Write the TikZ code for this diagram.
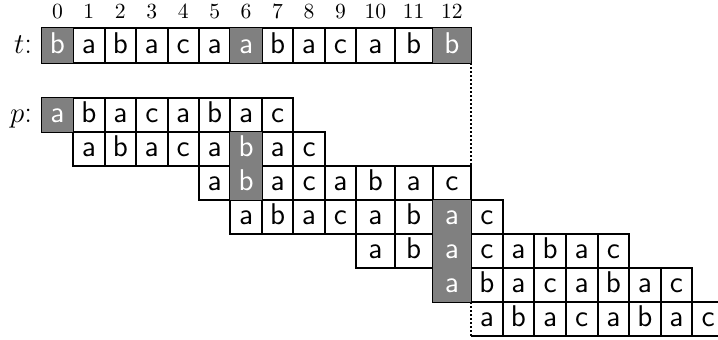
\documentclass[tikz,border=0pt]{standalone}
\def\XL{{41.7,73.15,104.6,136.05,167.5,198.95,230.4,261.85,293.3,324.75,356.2,394.5,432.8,471.1,502.7,534.3,565.9,597.5,629.1,660.7,692.3,723.9}}
\tikzset{
  cellline/.style={draw=black,line width=1pt},
  cellgray/.style={fill=black!50},
  dotline/.style={draw=black,line width=1pt,dash pattern=on 1pt off 1pt},
  lb/.style={anchor=base,inner sep=0pt,font=\fontsize{15}{18}\selectfont\sffamily},
  lw/.style={lb,text=white},
  idx/.style={anchor=base,inner sep=0pt,font=\fontsize{10.8}{13}\selectfont},
  lbl/.style={anchor=base east,inner sep=0pt,font=\fontsize{15.5}{18}\selectfont},
}
% midpoint of column #1 into \xm
\newcommand\colmid[1]{%
  \pgfmathtruncatemacro\colnext{#1+1}%
  \pgfmathsetmacro\xa{\XL[#1]}%
  \pgfmathsetmacro\xb{\XL[\colnext]}%
  \pgfmathsetmacro\xm{(\xa+\xb)/2}}
% #1 top y, #2 bottom y, #3 first column, #4 number of cells
\newcommand\rowcells[4]{%
  \foreach \k in {1,...,#4} {
    \pgfmathtruncatemacro\colidx{#3+\k-1}
    \colmid{\colidx}
    \draw[cellline] (\xa,#1) rectangle (\xb,#2);
  }}
% #1 column, #2 top y, #3 bottom y
\newcommand\graycell[3]{%
  \colmid{#1}
  \fill[cellgray] (\xa,#2) rectangle (\xb,#3);}
% #1 baseline y, #2 first column, #3 letter/style list, #4 name prefix
\newcommand\rowletters[4]{%
  \foreach \ch/\st [count=\k from 0] in {#3} {
    \pgfmathtruncatemacro\colidx{#2+\k}
    \colmid{\colidx}
    \node[\st] (#4-\colidx) at (\xm,#1) {\ch};
  }}
\begin{document}
\begin{tikzpicture}[x=0.5pt,y=-0.5pt]
\useasboundingbox (0,0) rectangle (718,340);
\clip (0,0) rectangle (718,340);
% index labels
\foreach \k in {0,...,12} {
  \colmid{\k}
  \node[idx] (i-\k) at (\xm,18.3) {\k};
}
\node[lbl] (tlab) at (32.5,53.3) {$t$:};
\node[lbl] (plab) at (32.5,122.3) {$p$:};
% borders
\rowcells{28.5}{63}{0}{13}
\rowcells{97.7}{131.8}{0}{8}
\rowcells{131.8}{165.9}{1}{8}
\rowcells{165.9}{200}{5}{8}
\rowcells{200}{234.1}{6}{8}
\rowcells{234.1}{268.2}{10}{8}
\rowcells{268.2}{302.3}{12}{8}
% last row: solid top, bottom and separators, dotted left edge
\pgfmathsetmacro\xs{\XL[13]}
\coordinate (r6tl) at (\xs,302.3);
\coordinate (r6bl) at (\xs,336.4);
\coordinate (r6tr) at (723.9,302.3);
\coordinate (r6br) at (723.9,336.4);
\draw[cellline] (r6tl) -- (r6tr);
\draw[cellline] (r6bl) -- (r6br);
\foreach \k in {14,...,21} {
  \pgfmathsetmacro\xa{\XL[\k]}
  \draw[cellline] (\xa,302.3) -- (\xa,336.4);
}
\draw[dotline] (r6tl) -- (r6bl);
% dotted guide from the end of t
\coordinate (tend) at (\xs,63);
\coordinate (r2end) at (\xs,165.9);
\draw[dotline] (tend) -- (r2end);
% gray cells
\graycell{0}{28.5}{63}
\graycell{6}{28.5}{63}
\graycell{12}{28.5}{63}
\graycell{0}{97.7}{131.8}
\graycell{6}{131.8}{165.9}
\graycell{6}{165.9}{200}
\graycell{12}{200}{234.1}
\graycell{12}{234.1}{268.2}
\graycell{12}{268.2}{302.3}
% letters
\rowletters{53.3}{0}{b/lw,a/lb,b/lb,a/lb,c/lb,a/lb,a/lw,b/lb,a/lb,c/lb,a/lb,b/lb,b/lw}{t}
\rowletters{122.3}{0}{a/lw,b/lb,a/lb,c/lb,a/lb,b/lb,a/lb,c/lb}{r0}
\rowletters{156.4}{1}{a/lb,b/lb,a/lb,c/lb,a/lb,b/lw,a/lb,c/lb}{r1}
\rowletters{190.5}{5}{a/lb,b/lw,a/lb,c/lb,a/lb,b/lb,a/lb,c/lb}{r2}
\rowletters{224.6}{6}{a/lb,b/lb,a/lb,c/lb,a/lb,b/lb,a/lw,c/lb}{r3}
\rowletters{258.7}{10}{a/lb,b/lb,a/lw,c/lb,a/lb,b/lb,a/lb,c/lb}{r4}
\rowletters{292.8}{12}{a/lw,b/lb,a/lb,c/lb,a/lb,b/lb,a/lb,c/lb}{r5}
\rowletters{326.9}{13}{a/lb,b/lb,a/lb,c/lb,a/lb,b/lb,a/lb,c/lb}{r6}
\end{tikzpicture}
\end{document}
